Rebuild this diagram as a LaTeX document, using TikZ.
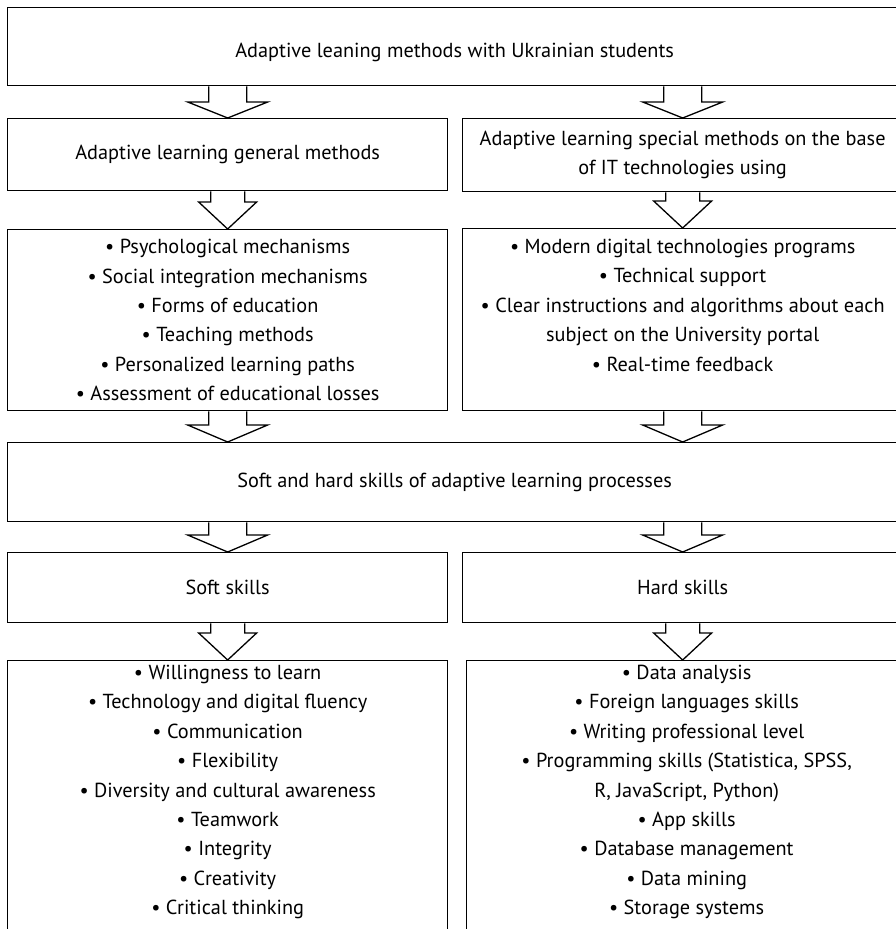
\documentclass[tikz,border=0pt]{standalone}
\usepackage{fontspec}
\setmainfont{PT Sans}
\usetikzlibrary{calc,positioning}

\tikzset{
  frame/.style={draw, line width=1.3pt, minimum width=440pt, inner sep=0pt,
    anchor=north west, align=center, font=\fontsize{20.3}{29.4}\selectfont},
  wideframe/.style={frame, minimum width=894pt},
  listtext/.style={inner sep=0pt, align=center, font=\fontsize{20.3}{29.4}\selectfont},
  arrowline/.style={line width=1.3pt, line join=miter}
}

% hollow block arrow at the x of #1, from #2.south to #3.north
\newcommand\hollowarrow[6]{%
  \draw[arrowline] let \p1=(#1), \p2=(#2.south), \p3=(#3.north) in
    (\x1-#4pt,\y2) -- (\x1-#4pt,\y3+#6pt) -- (\x1-#5pt,\y3+#6pt) -- (\x1,\y3)
    -- (\x1+#5pt,\y3+#6pt) -- (\x1+#4pt,\y3+#6pt) -- (\x1+#4pt,\y2);}

\begin{document}
\begin{tikzpicture}[x=1pt,y=-1pt]
\useasboundingbox (0,0) rectangle (896,929);
\clip (0,0) rectangle (896,929);

\node[wideframe, minimum height=78pt] (top) at (7,7) {};
\node[inner sep=0pt, font=\fontsize{20.3}{29.4}\selectfont] (toptext)
  at ($(top.center)+(0,6)$) {Adaptive leaning methods with Ukrainian students};

\node[frame, minimum height=72pt] (gen) at (7,118)
  {Adaptive learning general methods};
\node[frame, minimum height=73pt] (spec) at (462,118)
  {Adaptive learning special methods on the base\\of IT technologies using};

\node[frame, minimum height=181pt] (genlist) at (7,229)
  {• Psychological mechanisms\\
   • Social integration mechanisms\\
   • Forms of education\\
   • Teaching methods\\
   • Personalized learning paths\\
   • Assessment of educational losses};
\node[frame, minimum height=182pt] (speclist) at (462,228) {};
\node[listtext, below=11pt of speclist.north] (spectext)
  {• Modern digital technologies programs\\
   • Technical support\\
   • Clear instructions and algorithms about each\\
   subject on the University portal\\
   • Real-time feedback};

\node[wideframe, minimum height=79pt] (mid) at (7,442)
  {Soft and hard skills of adaptive learning processes};

\node[frame, minimum height=70pt] (soft) at (7,552) {Soft skills};
\node[frame, minimum height=70pt] (hard) at (462,552) {Hard skills};

\node[frame, minimum height=300pt] (softlist) at (7,660) {};
\node[listtext, below=5pt of softlist.north] (softtext)
  {• Willingness to learn\\
   • Technology and digital fluency\\
   • Communication\\
   • Flexibility\\
   • Diversity and cultural awareness\\
   • Teamwork\\
   • Integrity\\
   • Creativity\\
   • Critical thinking};
\node[frame, minimum height=300pt] (hardlist) at (466,660) {};
\node[listtext, below=5pt of hardlist.north] (hardtext)
  {• Data analysis\\
   • Foreign languages skills\\
   • Writing professional level\\
   • Programming skills (Statistica, SPSS,\\
   R, JavaScript, Python)\\
   • App skills\\
   • Database management\\
   • Data mining\\
   • Storage systems};

% arrows: x node / from / to / half shaft / half head / head length
\foreach \c/\a/\b/\s/\h/\l in {gen/top/gen/19/40/16, spec/top/spec/19/40/16,
    gen/gen/genlist/17/29/27, spec/spec/speclist/17/29/27,
    genlist/genlist/mid/19/40/17, speclist/speclist/mid/19/40/17,
    soft/mid/soft/19/40/17, hard/mid/hard/19/40/17,
    soft/soft/softlist/17/29/27, hard/hard/hardlist/17/29/27}
  \hollowarrow{\c}{\a}{\b}{\s}{\h}{\l};

\end{tikzpicture}
\end{document}
